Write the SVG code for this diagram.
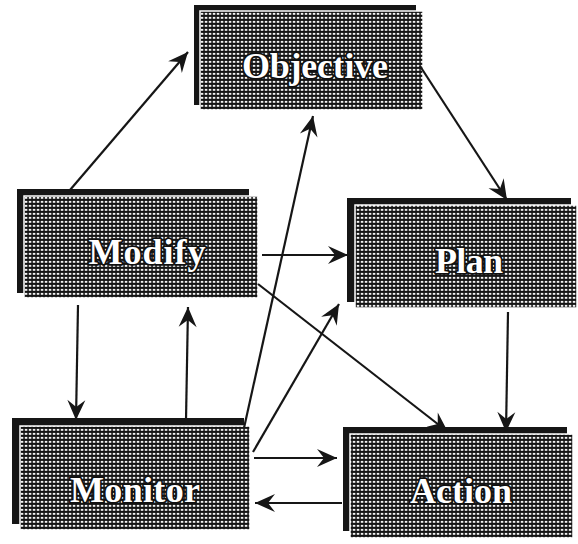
<svg xmlns="http://www.w3.org/2000/svg" width="578" height="544" viewBox="0 0 578 544">
  <defs>
    <pattern id="grid" width="4" height="4" patternUnits="userSpaceOnUse">
      <rect width="4" height="4" fill="#141414"/>
      <rect x="0.8" y="0.9" width="2.5" height="1.9" fill="#f4f4f4"/>
    </pattern>
    <marker id="arr" markerUnits="userSpaceOnUse" markerWidth="24" markerHeight="22" viewBox="-21 -11 24 22" refX="0" refY="0" orient="auto">
      <path d="M0,0 L-20,-9 L-13,0 L-20,9 Z" fill="#161616"/>
    </marker>
    <style>
      .shadow { fill: #161616; }
      .box { fill: url(#grid); stroke: #ffffff; stroke-width: 1.5; }
      .lbl { font-family: "Liberation Serif", "Times New Roman", serif; font-weight: bold; font-size: 36px; fill: #ffffff; stroke: #111111; stroke-width: 3.5; paint-order: stroke; stroke-linejoin: round; text-anchor: middle; }
      .conn line { stroke: #161616; stroke-width: 2.2; fill: none; marker-end: url(#arr); }
    </style>
  </defs>
  <rect width="578" height="544" fill="#ffffff"/>

  <g id="objective">
    <rect class="shadow" x="194" y="5" width="222" height="100"/>
    <rect class="box" x="200" y="11" width="223" height="99"/>
    <text class="lbl" x="315" y="78" textLength="146" lengthAdjust="spacing">Objective</text>
  </g>
  <g id="modify">
    <rect class="shadow" x="17" y="189" width="232" height="104"/>
    <rect class="box" x="24" y="196" width="234" height="102"/>
    <text class="lbl" x="147" y="264" textLength="117" lengthAdjust="spacing">Modify</text>
  </g>
  <g id="plan">
    <rect class="shadow" x="347" y="198" width="224" height="104"/>
    <rect class="box" x="355" y="205" width="222" height="103"/>
    <text class="lbl" x="469" y="273" textLength="68" lengthAdjust="spacing">Plan</text>
  </g>
  <g id="monitor">
    <rect class="shadow" x="12" y="418" width="232" height="106"/>
    <rect class="box" x="20" y="426" width="230" height="104"/>
    <text class="lbl" x="135" y="502" textLength="130" lengthAdjust="spacing">Monitor</text>
  </g>
  <g id="action">
    <rect class="shadow" x="343" y="427" width="224" height="104"/>
    <rect class="box" x="350" y="434" width="223" height="104"/>
    <text class="lbl" x="461" y="503" textLength="102" lengthAdjust="spacing">Action</text>
  </g>

  <g id="connectors" class="conn">
    <line x1="70" y1="190" x2="188" y2="52"/>
    <line x1="420" y1="66" x2="507" y2="200"/>
    <line x1="244" y1="428" x2="313" y2="116"/>
    <line x1="262" y1="255" x2="348" y2="255"/>
    <line x1="253" y1="452" x2="339" y2="304"/>
    <line x1="258" y1="284" x2="448" y2="432"/>
    <line x1="78" y1="305" x2="76" y2="420"/>
    <line x1="186" y1="420" x2="188" y2="307"/>
    <line x1="508" y1="312" x2="506" y2="432"/>
    <line x1="254" y1="458" x2="337" y2="458"/>
    <line x1="342" y1="503" x2="255" y2="503"/>
  </g>
</svg>
